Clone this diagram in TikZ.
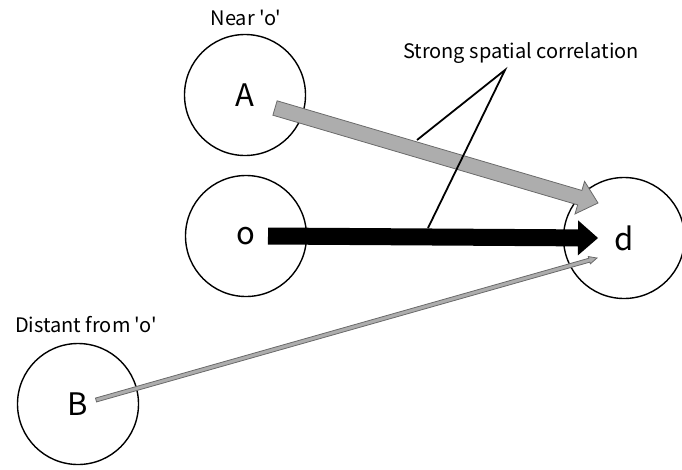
\documentclass[tikz,border=0pt]{standalone}
\usepackage{fontspec}
\setmainfont{Noto Sans CJK JP}[Ligatures=TeXOff]
\usetikzlibrary{calc}
\definecolor{barfill}{HTML}{ADADAD}
\definecolor{baredge}{HTML}{6A6A6A}
\newcommand{\blockarrow}[6]{% style, from, to, half width, head half width, head length
  \coordinate (tmpS) at ($(#3)!#6!(#2)$);
  \path[#1] ($(#2)!#4!90:(#3)$) -- ($(tmpS)!#4!90:(#3)$) -- ($(tmpS)!#5!90:(#3)$) -- (#3)
    -- ($(tmpS)!#5!-90:(#3)$) -- ($(tmpS)!#4!-90:(#3)$) -- ($(#2)!#4!-90:(#3)$) -- cycle;
}
\tikzset{
  place/.style={circle, draw=black, line width=1.4pt, minimum size=121pt, inner sep=0pt, font=\fontsize{31}{31}\selectfont},
  lbl/.style={font=\fontsize{20}{20}\selectfont, inner sep=0pt},
  blackbar/.style={fill=black},
  greybar/.style={fill=barfill, draw=baredge, line width=0.8pt, line join=miter},
  callout/.style={draw=black, line width=1.8pt}
}
\begin{document}
\begin{tikzpicture}[x=1pt, y=-1pt]
\useasboundingbox (0,0) rectangle (682,469);
\node[place] (A) at (245,95) {A};
\node[place] (o) at (246,236) {o};
\node[place] (d) at (624,238) {d};
\node[place] (B) at (78,404) {B};
\node[lbl] (nearlbl) at (246,18) {Near 'o'};
\node[lbl] (distlbl) at (86,325) {Distant from 'o'};
\node[lbl] (corrlbl) at (521,53) {Strong spatial correlation};
% arrow end points
\coordinate (oS) at ($(o.center)+(22,0)$);
\coordinate (oE) at ($(d.center)+(-26,0)$);
\coordinate (aS) at ($(A.center)+(30,13)$);
\coordinate (aE) at ($(d.center)+(-26,-35)$);
\coordinate (bS) at ($(B.center)+(18,-4)$);
\coordinate (bE) at ($(d.center)+(-27,20)$);
\blockarrow{greybar}{aS}{aE}{7.5pt}{17pt}{19pt}
\blockarrow{blackbar}{oS}{oE}{8.5pt}{17.5pt}{20pt}
\blockarrow{greybar}{bS}{bE}{2pt}{3.8pt}{8pt}
% callout
\coordinate (apex) at (505,70);
\coordinate (onA) at (417,140);
\coordinate (onO) at (428,228);
\draw[callout] (onA) -- (apex) -- (onO);
\end{tikzpicture}
\end{document}
